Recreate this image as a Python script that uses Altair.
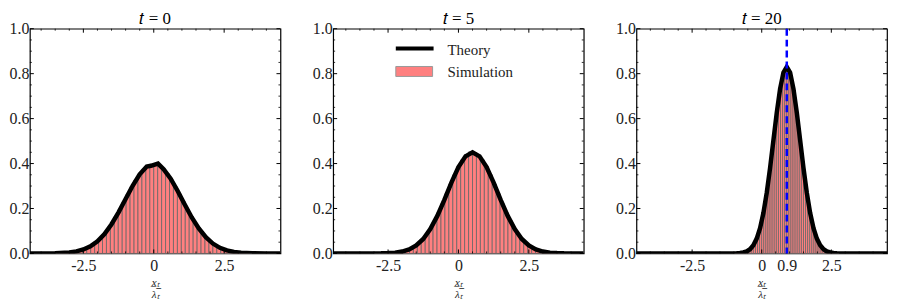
import altair as alt
import pandas as pd

# ---------------- data ----------------
titles = ["𝑡 = 0", "𝑡 = 5", "𝑡 = 20"]
x_domains = [[-4.4, 4.5], [-4.45, 4.45], [-4.5, 4.5]]

# histogram bins (start, width) and heights (density)
bin_start = [-3.5, -3.0, -0.975]
bin_width = [0.14, 0.14, 0.075]
hist_t0 = [0.001, 0.002, 0.003, 0.004, 0.007, 0.010, 0.014, 0.020, 0.028, 0.038,
           0.051, 0.067, 0.086, 0.109, 0.136, 0.165, 0.196, 0.229, 0.264, 0.297,
           0.327, 0.353, 0.375, 0.389, 0.397, 0.398, 0.390, 0.376, 0.354, 0.327,
           0.296, 0.264, 0.230, 0.196, 0.165, 0.135, 0.109, 0.086, 0.067, 0.051,
           0.038, 0.028, 0.020, 0.014, 0.010, 0.006, 0.004, 0.003, 0.002, 0.001]
hist_t5 = [0.0003, 0.0005, 0.0008, 0.0014, 0.0024, 0.0039, 0.0064, 0.0100, 0.0152, 0.0226,
           0.0328, 0.0464, 0.0643, 0.0867, 0.114, 0.146, 0.183, 0.223, 0.266, 0.309,
           0.350, 0.386, 0.416, 0.440, 0.452, 0.449, 0.438, 0.416, 0.386, 0.350,
           0.309, 0.266, 0.223, 0.183, 0.146, 0.114, 0.0867, 0.0643, 0.0464, 0.0328,
           0.0226, 0.0152, 0.0100, 0.0064, 0.0039, 0.0024, 0.0014, 0.0008, 0.0005, 0.0003]
hist_t20 = [0.0005, 0.0010, 0.0017, 0.0029, 0.0049, 0.0080, 0.0127, 0.0197, 0.0299, 0.0442,
            0.0637, 0.0897, 0.123, 0.165, 0.216, 0.276, 0.344, 0.418, 0.496, 0.574,
            0.648, 0.715, 0.769, 0.808, 0.827, 0.827, 0.808, 0.769, 0.715, 0.648,
            0.574, 0.496, 0.418, 0.344, 0.276, 0.216, 0.165, 0.123, 0.0897, 0.0637,
            0.0442, 0.0299, 0.0197, 0.0127, 0.0080, 0.0049, 0.0029, 0.0017, 0.0010, 0.0005]
hists = [hist_t0, hist_t5, hist_t20]

# theory curves
th0_x = [-4.4, -4.0, -3.5, -3.0, -2.75, -2.5, -2.25, -2.0, -1.75, -1.5, -1.25, -1.0, -0.75,
         -0.5, -0.25, -0.1, 0.15, 0.35, 0.6, 0.85, 1.1, 1.35, 1.6, 1.85, 2.1, 2.35, 2.6,
         2.85, 3.1, 3.5, 4.0, 4.5]
th0_y = [0.0, 0.0001, 0.0009, 0.0044, 0.0091, 0.0175, 0.0317, 0.054, 0.086, 0.130, 0.183,
         0.242, 0.301, 0.352, 0.387, 0.390, 0.400, 0.375, 0.333, 0.278, 0.218, 0.160, 0.111,
         0.072, 0.044, 0.025, 0.0136, 0.0069, 0.0033, 0.0009, 0.0001, 0.0]
th5_x = [-4.45, -4.0, -3.5, -3.0, -2.75, -2.5, -2.25, -2.0, -1.75, -1.5, -1.25, -1.0, -0.75,
         -0.5, -0.25, 0.0, 0.25, 0.5, 0.75, 1.0, 1.25, 1.5, 1.75, 2.0, 2.25, 2.5, 2.75, 3.0,
         3.25, 3.5, 3.75, 4.0, 4.45]
th5_y = [0.0, 0.0, 0.0, 0.0002, 0.0005, 0.0015, 0.0037, 0.0085, 0.018, 0.0354, 0.0643,
         0.108, 0.167, 0.238, 0.315, 0.384, 0.432, 0.450, 0.432, 0.384, 0.315, 0.238, 0.167,
         0.108, 0.0643, 0.0354, 0.018, 0.0085, 0.0037, 0.0015, 0.0005, 0.0002, 0.0]
th20_x = [-4.5, -2.0, -1.2, -0.9, -0.78, -0.66, -0.54, -0.42, -0.3, -0.18, -0.06, 0.06, 0.18,
          0.3, 0.42, 0.54, 0.66, 0.78, 0.9, 1.02, 1.14, 1.26, 1.38, 1.5, 1.62, 1.74, 1.86,
          1.98, 2.1, 2.22, 2.34, 2.46, 2.58, 2.7, 3.0, 3.8, 4.5]
th20_y = [0.0, 0.0, 0.0001, 0.0007, 0.0018, 0.0042, 0.0092, 0.0189, 0.0365, 0.0661, 0.1123,
          0.1795, 0.2695, 0.380, 0.5034, 0.6265, 0.7325, 0.8045, 0.830, 0.8045, 0.7325,
          0.6265, 0.5034, 0.380, 0.2695, 0.1795, 0.1123, 0.0661, 0.0365, 0.0189, 0.0092,
          0.0042, 0.0018, 0.0007, 0.0001, 0.0, 0.0]
theory_x = [th0_x, th5_x, th20_x]
theory_y = [th0_y, th5_y, th20_y]

x_major_ticks = [[-2.5, 0, 2.5], [-2.5, 0, 2.5], [-2.5, 0, 0.9, 2.5]]
x_minor_ticks = [-4, -3.5, -3, -2, -1.5, -1, -0.5, 0.5, 1, 1.5, 2, 3, 3.5, 4]
y_major_ticks = [0.0, 0.2, 0.4, 0.6, 0.8, 1.0]
y_minor_ticks = [0.05, 0.1, 0.15, 0.25, 0.3, 0.35, 0.45, 0.5, 0.55, 0.65, 0.7, 0.75,
                 0.85, 0.9, 0.95]
mean_line_t20 = [0.9]
legend_labels = ["Theory", "Simulation"]
x_title = ["x̲ₜ̲", "λₜ"]

# ---------------- style ----------------
W, H = 252, 226
FONT = "Liberation Serif"
PINK = "#ff8080"
EDGE = "#666666"


def make_panel(i):
    bins = pd.DataFrame({
        "left": [bin_start[i] + k * bin_width[i] for k in range(len(hists[i]))],
        "h": hists[i],
    })
    bins["right"] = bins["left"] + bin_width[i]
    theory = pd.DataFrame({"x": theory_x[i], "y": theory_y[i]})
    xs = alt.Scale(domain=x_domains[i], nice=False, zero=False)
    ys = alt.Scale(domain=[0, 1], nice=False)

    x_axis = alt.Axis(values=x_major_ticks[i],
                      labelExpr="datum.value == 0 ? '0' : '' + datum.value",
                      title=x_title, titleFontStyle="italic", titleFont=FONT,
                      titleFontSize=11, titleFontWeight="normal", titleLineHeight=12,
                      titlePadding=3, labelPadding=4, grid=False, ticks=False,
                      domain=False, labelFont=FONT, labelFontSize=16, labelColor="#222222",
                      titleColor="#222222")
    y_axis = alt.Axis(values=y_major_ticks, format=".1f", title=None, labelPadding=1,
                      grid=False, ticks=False, domain=False, labelFont=FONT,
                      labelFontSize=16, labelColor="#222222")

    def X(f):
        return alt.X(f, type="quantitative", scale=xs, axis=x_axis)

    def Y(f):
        return alt.Y(f, type="quantitative", scale=ys, axis=y_axis)

    bars = alt.Chart(bins).mark_rect(fill=PINK, stroke=EDGE, strokeWidth=0.8).encode(
        x=X("left"), x2="right", y=Y("h"), y2=alt.datum(0),
    )
    line = alt.Chart(theory).mark_line(color="black", strokeWidth=4.5, clip=True).encode(
        x=X("x"), y=Y("y"),
    )
    layers = [bars, line]

    def xticks(vals, ln, sw):
        d = pd.DataFrame({"v": vals})
        b = alt.Chart(d).mark_rule(color="black", strokeWidth=sw).encode(
            x=X("v"), y=alt.value(H), y2=alt.value(H - ln))
        t = alt.Chart(d).mark_rule(color="black", strokeWidth=sw).encode(
            x=X("v"), y=alt.value(0), y2=alt.value(ln))
        return [b, t]

    def yticks(vals, ln, sw):
        d = pd.DataFrame({"v": vals})
        l = alt.Chart(d).mark_rule(color="black", strokeWidth=sw).encode(
            y=Y("v"), x=alt.value(0), x2=alt.value(ln))
        r = alt.Chart(d).mark_rule(color="black", strokeWidth=sw).encode(
            y=Y("v"), x=alt.value(W), x2=alt.value(W - ln))
        return [l, r]

    layers += xticks(x_major_ticks[i], 4, 1)
    layers += xticks(x_minor_ticks, 2, 0.8)
    layers += yticks(y_major_ticks, 4, 1)
    layers += yticks(y_minor_ticks, 2, 0.8)

    if i == 2:
        mean = alt.Chart(pd.DataFrame({"m": mean_line_t20})).mark_rule(
            color="#0000ff", strokeWidth=2.5, strokeDash=[7, 4]).encode(
            x=X("m"), y=alt.value(0), y2=alt.value(H))
        layers.append(mean)

    if i == 1:
        ld = pd.DataFrame({"label": legend_labels})
        lg_line = alt.Chart(ld).transform_filter("datum.label == 'Theory'").mark_rule(
            color="black", strokeWidth=4).encode(
            x=alt.value(63), x2=alt.value(101), y=alt.value(20))
        lg_box = alt.Chart(ld).transform_filter("datum.label == 'Simulation'").mark_rect(
            fill=PINK, stroke="#999999", strokeWidth=1).encode(
            x=alt.value(63), x2=alt.value(100), y=alt.value(38), y2=alt.value(48))
        lg_t1 = alt.Chart(ld).transform_filter("datum.label == 'Theory'").mark_text(
            align="left", baseline="middle", font=FONT, fontSize=15, color="#222").encode(
            x=alt.value(115), y=alt.value(21), text="label:N")
        lg_t2 = alt.Chart(ld).transform_filter("datum.label == 'Simulation'").mark_text(
            align="left", baseline="middle", font=FONT, fontSize=15, color="#222").encode(
            x=alt.value(115), y=alt.value(44), text="label:N")
        layers += [lg_line, lg_box, lg_t1, lg_t2]

    return alt.layer(*layers).properties(
        width=W, height=H,
        title=alt.TitleParams(titles[i], font=FONT, fontSize=17, fontWeight="normal",
                              offset=-7, color="black"),
    )


chart = alt.hconcat(*[make_panel(i) for i in range(3)], spacing=29).properties(
    padding={"left": 0, "top": 0, "right": 0, "bottom": 0}
).configure_view(stroke="black", strokeWidth=1.2)

chart.save("out.html", embed_options={"renderer": "svg", "actions": False})
